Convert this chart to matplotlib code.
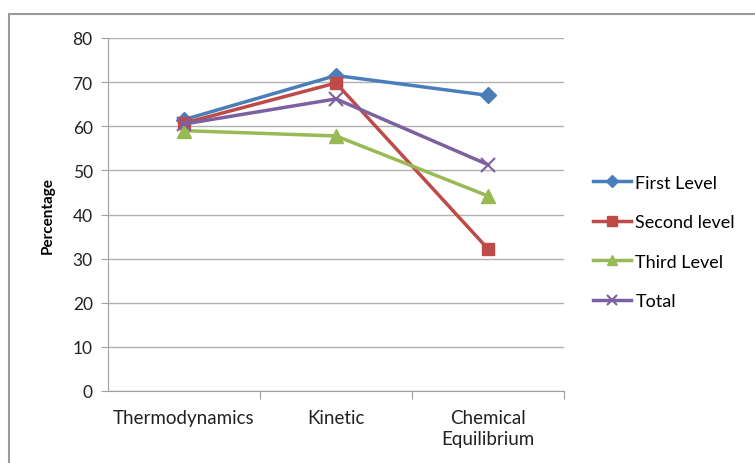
import matplotlib.pyplot as plt
from matplotlib.patches import Rectangle

plt.rcParams['font.family'] = ['Lato', 'DejaVu Sans']

# --- data
categories = ["Thermodynamics", "Kinetic", "Chemical\nEquilibrium"]
first_level = [61.5, 71.5, 67.0]
second_level = [60.7, 69.8, 32.2]
third_level = [59.0, 57.8, 44.2]
total = [60.5, 66.2, 51.3]
y_ticks = [0, 10, 20, 30, 40, 50, 60, 70, 80]

W, H = 755, 464
fig = plt.figure(figsize=(W / 100, H / 100), dpi=100)
ax = fig.add_axes([108 / W, 1 - 392 / H, 456 / W, (392 - 39) / H])

# outer chart frame
fig.patches.append(Rectangle((9 / W, -0.05), 1.2, 1 - 15 / H + 0.05,
                             transform=fig.transFigure, fill=False,
                             edgecolor="#9a9a9a", linewidth=1.5))

x = range(len(categories))
ax.plot(x, first_level, color="#4A7EBB", lw=2.5, marker="D", ms=8, label="First Level")
ax.plot(x, second_level, color="#BE4B48", lw=2.5, marker="s", ms=9, label="Second level")
ax.plot(x, third_level, color="#98B954", lw=2.5, marker="^", ms=10, label="Third Level")
ax.plot(x, total, color="#7D60A0", lw=2.5, marker="x", ms=10, mew=1.5, label="Total")

ax.set_xlim(-0.5, 2.5)
ax.set_ylim(0, 80)
ax.set_yticks(y_ticks)
ax.yaxis.grid(True, color="#b0b0b0", lw=1)
ax.set_axisbelow(True)

ax.set_xticks([0.5, 1.5, 2.5], minor=False)
ax.set_xticklabels([])
ax.set_xticks(list(x), minor=True)
ax.set_xticklabels(categories, minor=True, fontsize=13.5, color="#222222",
                   linespacing=1.25)
ax.tick_params(axis="x", which="minor", length=0, pad=13)
ax.tick_params(axis="x", which="major", length=6, color="#a0a0a0", direction="out")
ax.tick_params(axis="y", length=5, color="#a0a0a0", labelsize=12.5, labelcolor="#222222", pad=6)

for s in ["top", "right"]:
    ax.spines[s].set_visible(False)
for s in ["left", "bottom"]:
    ax.spines[s].set_color("#a0a0a0")

ax.set_ylabel("Percentage", fontsize=11, fontweight="bold", labelpad=13)

ax.legend(loc="center left", bbox_to_anchor=(593 / W, 1 - 243 / H),
          bbox_transform=fig.transFigure, frameon=False, fontsize=13,
          borderpad=0, borderaxespad=0,
          handlelength=2.1, handletextpad=0.25, labelspacing=1.3,
          markerscale=0.75)

fig.savefig("out.png", dpi=100)
